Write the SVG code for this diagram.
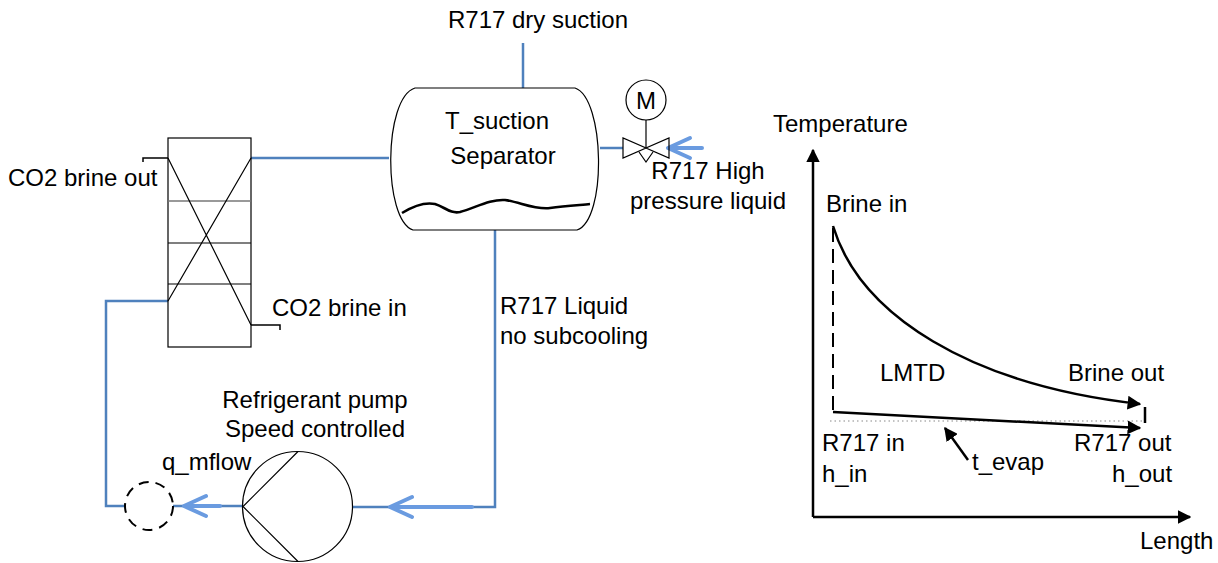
<svg xmlns="http://www.w3.org/2000/svg" width="1218" height="563" viewBox="0 0 1218 563">
<defs>
<style>
text{font-family:"Liberation Sans",Arial,sans-serif;font-size:24px;fill:#000}
.pipe{fill:none;stroke:#4F81BD;stroke-width:2.5}
.flow{fill:none;stroke:#6A9BE0;stroke-width:4;stroke-linecap:round;stroke-linejoin:round}
.thin{fill:none;stroke:#000;stroke-width:1.2}
.thk{fill:none;stroke:#000;stroke-width:2.5}
</style>
<marker id="ah" viewBox="0 0 10 10" refX="9" refY="5" markerWidth="5.5" markerHeight="5.5" orient="auto" markerUnits="strokeWidth">
<path d="M0,0 L10,5 L0,10 Z" fill="#000"/>
</marker>
</defs>
<rect width="1218" height="563" fill="#fff"/>

<g id="connectors">
<path class="pipe" d="M523,43 V88"/>
<path class="pipe" d="M251,158 H389"/>
<path class="pipe" d="M600,148 H623"/>
<path class="pipe" d="M168,301 H106 V506 H125"/>
<path class="pipe" d="M173,506 H243"/>
<path class="pipe" d="M352,507 H495 V230"/>
<path class="flow" d="M206,496 L184,506 L206,516 M184,506 H220"/>
<path class="flow" d="M412,497 L390,507 L412,517 M390,507 H472"/>
<path class="flow" d="M690,138 L668,148 L690,158 M668,148 H702"/>
</g>

<g id="separator">
<path class="thin" d="M415,88 H575 C605,98 607,220 577,230 H413 C383,220 383,98 415,88 Z" fill="#fff"/>
<path d="M402,213 C415,205 425,202 435,204 C445,207 450,214 460,212 C475,208 490,199 505,200 C520,202 535,210 550,208 C565,206 580,205 590,204" fill="none" stroke="#000" stroke-width="2.6"/>
<text x="497" y="129" text-anchor="middle">T_suction</text>
<text x="503" y="164" text-anchor="middle">Separator</text>
</g>

<g id="valve">
<circle cx="646" cy="100" r="20" class="thin" fill="#fff"/>
<text x="646" y="109" text-anchor="middle">M</text>
<path class="thin" d="M646,120 V148"/>
<path class="thin" d="M623,138 L623,158 L646,148 Z M669,138 L669,158 L646,148 Z M639,152 L646,162 L653,152" fill="#fff"/>
</g>

<g id="heat-exchanger">
<rect x="168" y="138" width="83" height="209" class="thin" fill="#fff"/>
<path d="M168,201 H251" stroke="#777" stroke-width="1.5"/>
<path class="thin" d="M168,243 H251 M168,284 H251"/>
<path class="thin" d="M168,158 L251,325 M251,158 L168,301"/>
<path class="thk" style="stroke-width:1.5" d="M143,162 V158 H168"/>
<path class="thk" style="stroke-width:1.5" d="M251,325 H280 V330"/>
</g>

<g id="flow-meter">
<circle cx="149" cy="506" r="24" fill="none" stroke="#000" stroke-width="2" stroke-dasharray="10,7"/>
</g>

<g id="pump">
<circle cx="297.5" cy="506.5" r="55" class="thin" fill="#fff"/>
<path class="thin" d="M298,451.5 L243,506.5 L298,561.5"/>
</g>

<g id="labels">
<text x="538" y="28" text-anchor="middle">R717 dry suction</text>
<text x="708" y="179" text-anchor="middle">R717 High</text>
<text x="708" y="209" text-anchor="middle">pressure liquid</text>
<text x="8" y="186">CO2 brine out</text>
<text x="272" y="316">CO2 brine in</text>
<text x="500" y="314">R717 Liquid</text>
<text x="500" y="344">no subcooling</text>
<text x="315" y="408" text-anchor="middle">Refrigerant pump</text>
<text x="315" y="437" text-anchor="middle">Speed controlled</text>
<text x="162" y="470">q_mflow</text>
</g>

<g id="chart">
<path class="thk" d="M813,517 V150" marker-end="url(#ah)"/>
<path class="thk" d="M813,517 H1190" marker-end="url(#ah)"/>
<path d="M830,421 H1145" stroke="#888" stroke-width="1.2" stroke-dasharray="1.5,3"/>
<path d="M833,228 V414" fill="none" stroke="#000" stroke-width="2" stroke-dasharray="14,7"/>
<path class="thk" d="M833,226 C860,315 970,385 1140,404" marker-end="url(#ah)"/>
<path class="thk" d="M833,412 L1140,428" marker-end="url(#ah)"/>
<path class="thk" d="M1145,407 V423"/>
<path class="thk" d="M968,460 L945,428" marker-end="url(#ah)"/>
<text x="773" y="132">Temperature</text>
<text x="826" y="212">Brine in</text>
<text x="880" y="381">LMTD</text>
<text x="1068" y="381">Brine out</text>
<text x="822" y="451">R717 in</text>
<text x="822" y="482">h_in</text>
<text x="972" y="470">t_evap</text>
<text x="1074" y="451">R717 out</text>
<text x="1112" y="482">h_out</text>
<text x="1140" y="549">Length</text>
</g>
</svg>
